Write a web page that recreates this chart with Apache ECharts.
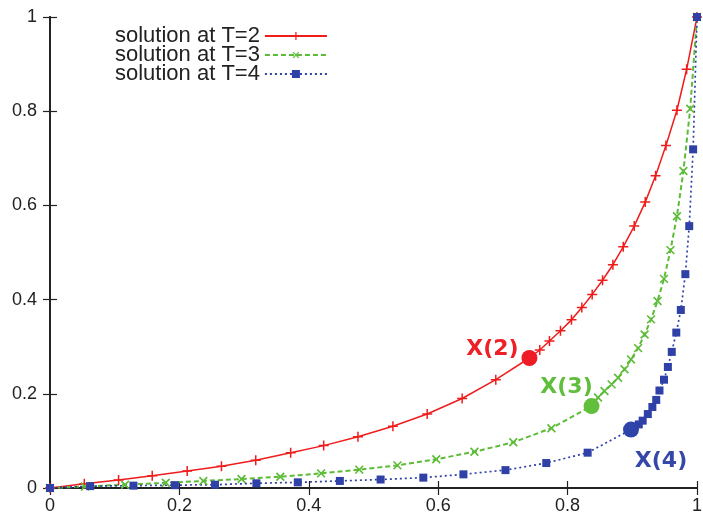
<!DOCTYPE html>
<html>
<head>
<meta charset="utf-8">
<script src="https://cdn.jsdelivr.net/npm/echarts@6/dist/echarts.min.js"></script>
<style>
  html, body { margin: 0; padding: 0; background: #fff; }
  #chart { width: 703px; height: 519px; }
</style>
</head>
<body>
<div id="chart"></div>
<script>
// values
var xT2 = [0, 0.053, 0.106, 0.158, 0.212, 0.265, 0.318, 0.372, 0.423, 0.476, 0.530, 0.583, 0.637, 0.689, 0.741,
           0.757, 0.772, 0.789, 0.806, 0.822, 0.838, 0.854, 0.870, 0.886, 0.903, 0.920, 0.936, 0.952, 0.969, 0.984, 1.0];
var yT2 = [0, 0.009, 0.017, 0.026, 0.036, 0.046, 0.059, 0.075, 0.090, 0.109, 0.131, 0.157, 0.190, 0.230, 0.276,
           0.293, 0.312, 0.334, 0.357, 0.383, 0.411, 0.441, 0.474, 0.512, 0.556, 0.607, 0.663, 0.727, 0.802, 0.889, 1.0];

var xT3 = [0, 0.054, 0.116, 0.179, 0.237, 0.296, 0.356, 0.419, 0.478, 0.537, 0.597, 0.656, 0.716, 0.775, 0.837,
           0.847, 0.857, 0.868, 0.878, 0.888, 0.898, 0.909, 0.919, 0.929, 0.939, 0.949, 0.959, 0.969, 0.979, 0.9895, 1.0];
var yT3 = [0, 0.003, 0.007, 0.011, 0.015, 0.019, 0.024, 0.031, 0.039, 0.048, 0.061, 0.077, 0.097, 0.127, 0.174,
           0.192, 0.206, 0.220, 0.234, 0.252, 0.273, 0.297, 0.326, 0.358, 0.397, 0.444, 0.505, 0.577, 0.673, 0.805, 1.0];

var xT4 = [0, 0.062, 0.129, 0.193, 0.255, 0.319, 0.383, 0.448, 0.511, 0.577, 0.639, 0.704, 0.767, 0.831, 0.898,
           0.910, 0.916, 0.924, 0.931, 0.937, 0.942, 0.949, 0.955, 0.961, 0.968, 0.975, 0.982, 0.988, 0.994, 1.0];
var yT4 = [0, 0.004, 0.005, 0.006, 0.007, 0.010, 0.012, 0.015, 0.018, 0.022, 0.029, 0.038, 0.053, 0.075, 0.124,
           0.135, 0.143, 0.157, 0.172, 0.187, 0.207, 0.230, 0.257, 0.289, 0.330, 0.378, 0.454, 0.556, 0.719, 1.0];

var seriesNames = ['solution at T=2', 'solution at T=3', 'solution at T=4'];
var pointNames = ['X(2)', 'X(3)', 'X(4)'];
var pointX = [0.741, 0.837, 0.898];
var pointY = [0.276, 0.174, 0.124];

var red = '#f01c1c', green = '#5dbb38', blue = '#2f40a6';
var dotColors = ['#ee1c24', '#62bf3c', '#2e44a8'];
var labelColors = ['#ee2027', '#5fbf3c', '#3548a8'];
var labelOffsets = [[-37, -9], [-25, -19], [30, 32]];

function pairs(xs, ys) {
  return xs.map(function (x, i) { return [x, ys[i]]; });
}

var plusPath = 'path://M4.25,0h1.5v10h-1.5zM0,4.25h10v1.5h-10z';

var chart = echarts.init(document.getElementById('chart'));

var axisFont = { fontFamily: 'Liberation Sans', fontSize: 18, color: '#222' };
var frameLine = { show: true, lineStyle: { color: '#222', width: 1.8 } };
var insideTick = { show: true, inside: true, length: 7, lineStyle: { color: '#222', width: 1.2 } };

chart.setOption({
  animation: false,
  backgroundColor: '#fff',
  grid: { left: 50, right: 6, top: 17, bottom: 31, outerBoundsMode: 'none' },
  legend: {
    orient: 'vertical',
    left: 110,
    top: 20,
    align: 'right',
    itemWidth: 62,
    itemHeight: 10,
    itemGap: -3,
    data: seriesNames,
    textStyle: { fontFamily: 'Liberation Sans', fontSize: 22, color: '#222', lineHeight: 19 }
  },
  xAxis: [
    { type: 'value', min: 0, max: 1, interval: 0.2, position: 'bottom',
      axisLine: frameLine, axisTick: insideTick, splitLine: { show: false },
      axisLabel: Object.assign({ margin: 9, formatter: function (v) { return String(+v.toFixed(1)); } }, axisFont) },
    { type: 'value', min: 0, max: 1, interval: 0.2, position: 'top',
      axisLine: frameLine, axisTick: insideTick, splitLine: { show: false }, axisLabel: { show: false } }
  ],
  yAxis: [
    { type: 'value', min: 0, max: 1, interval: 0.2, position: 'left',
      axisLine: frameLine, axisTick: insideTick, splitLine: { show: false },
      axisLabel: Object.assign({ margin: 13, formatter: function (v) { return String(+v.toFixed(1)); } }, axisFont) },
    { type: 'value', min: 0, max: 1, interval: 0.2, position: 'right',
      axisLine: frameLine, axisTick: insideTick, splitLine: { show: false }, axisLabel: { show: false } }
  ],
  series: [
    {
      name: seriesNames[0], type: 'line', data: pairs(xT2, yT2),
      symbol: plusPath, symbolSize: 10,
      itemStyle: { color: red },
      lineStyle: { color: red, width: 1.5, type: 'solid' }
    },
    {
      name: seriesNames[1], type: 'line', data: pairs(xT3, yT3),
      symbol: plusPath, symbolSize: 11, symbolRotate: 45,
      itemStyle: { color: green },
      lineStyle: { color: green, width: 2, type: [5, 3] }
    },
    {
      name: seriesNames[2], type: 'line', data: pairs(xT4, yT4),
      symbol: 'rect', symbolSize: 8,
      itemStyle: { color: blue },
      lineStyle: { color: blue, width: 1.7, type: [2, 3] }
    },
    {
      type: 'scatter', symbolSize: 16, z: 5,
      data: pointNames.map(function (n, i) {
        return {
          name: n, value: [pointX[i], pointY[i]],
          itemStyle: { color: dotColors[i], opacity: 1 },
          label: { show: true, position: 'inside', offset: labelOffsets[i], formatter: n,
                   color: labelColors[i], fontFamily: 'DejaVu Sans', fontWeight: 'bold', fontSize: 22 }
        };
      })
    }
  ]
});
</script>
</body>
</html>
